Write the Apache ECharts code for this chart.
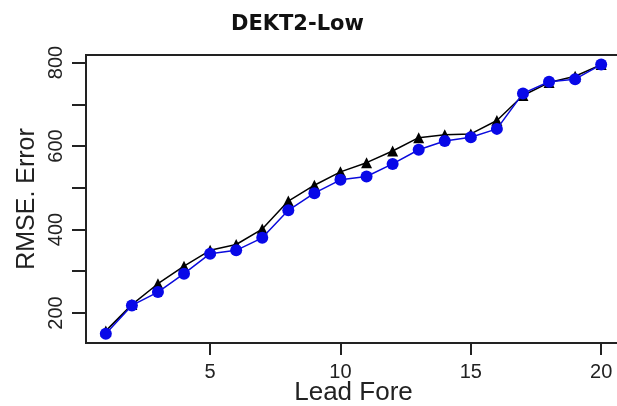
<!DOCTYPE html>
<html>
<head>
<meta charset="utf-8">
<script src="https://cdn.jsdelivr.net/npm/echarts@6/dist/echarts.min.js"></script>
<style>
  html, body { margin: 0; padding: 0; background: #ffffff; }
  #chart { width: 617px; height: 406px; }
</style>
</head>
<body>
<div id="chart"></div>
<script>
// Forecast lead times (1..20)
const leads = [1, 2, 3, 4, 5, 6, 7, 8, 9, 10, 11, 12, 13, 14, 15, 16, 17, 18, 19, 20];
// RMSE per lead, two runs
const rmseBlack = [157, 220, 270, 312, 350, 364, 401, 468, 506, 538, 560, 588, 620, 627, 629, 661, 721, 752, 767, 795];
const rmseBlue  = [150, 218, 250, 294, 342, 350, 380, 446, 487, 519, 527, 557, 591, 612, 621, 641, 726, 754, 760, 795];
// Axis ticks
const xTicks = [5, 10, 15, 20];
const yTicks = [200, 300, 400, 500, 600, 700, 800];
const yLabels = [200, 400, 600, 800];

const pairs = (xs, ys) => xs.map((x, i) => [x, ys[i]]);

const chart = echarts.init(document.getElementById('chart'), null, { renderer: 'canvas' });
const font = 'Liberation Sans, Arial, sans-serif';

chart.setOption({
  animation: false,
  backgroundColor: '#ffffff',
  title: {
    text: 'DEKT2-Low',
    left: 226,
    top: 9,
    textStyle: { fontFamily: 'DejaVu Sans, sans-serif', fontWeight: 'bold', fontSize: 21, color: '#111' }
  },
  grid: {
    left: 86, top: 55, width: 535, height: 288,
    outerBoundsMode: 'none',
    containLabel: false,
    show: true, borderColor: '#222', borderWidth: 2, backgroundColor: 'transparent'
  },
  xAxis: {
    type: 'value',
    min: 0.24, max: 20.76,
    name: 'Lead Fore',
    nameLocation: 'middle',
    nameMoveOverlap: false,
    nameGap: 37,
    nameTextStyle: { fontFamily: font, fontSize: 26, color: '#222' },
    axisLine: { show: true, lineStyle: { color: '#222', width: 2 } },
    axisTick: { show: true, length: 12, customValues: xTicks, lineStyle: { color: '#222', width: 2 } },
    axisLabel: { customValues: xTicks, margin: 19, fontFamily: font, fontSize: 20, color: '#222' },
    splitLine: { show: false }
  },
  yAxis: {
    type: 'value',
    min: 128, max: 818,
    name: 'RMSE. Error',
    nameLocation: 'middle',
    nameMoveOverlap: false,
    nameRotate: 90,
    nameGap: 46,
    nameTextStyle: { fontFamily: font, fontSize: 25, color: '#222' },
    axisLine: { show: true, lineStyle: { color: '#222', width: 2 } },
    axisTick: { show: true, length: 14, customValues: yTicks, lineStyle: { color: '#222', width: 2 } },
    axisLabel: { customValues: yLabels, rotate: 90, margin: 20, fontFamily: font, fontSize: 20, color: '#222' },
    splitLine: { show: false }
  },
  series: [
    {
      type: 'line',
      data: pairs(leads, rmseBlack),
      symbol: 'triangle',
      symbolSize: 11,
      lineStyle: { color: '#000', width: 1.5 },
      itemStyle: { color: '#000' },
      z: 2
    },
    {
      type: 'line',
      data: pairs(leads, rmseBlue),
      symbol: 'circle',
      symbolSize: 12,
      lineStyle: { color: '#0a0adc', width: 1.5 },
      itemStyle: { color: '#0808e8' },
      z: 3
    }
  ]
});
</script>
</body>
</html>
